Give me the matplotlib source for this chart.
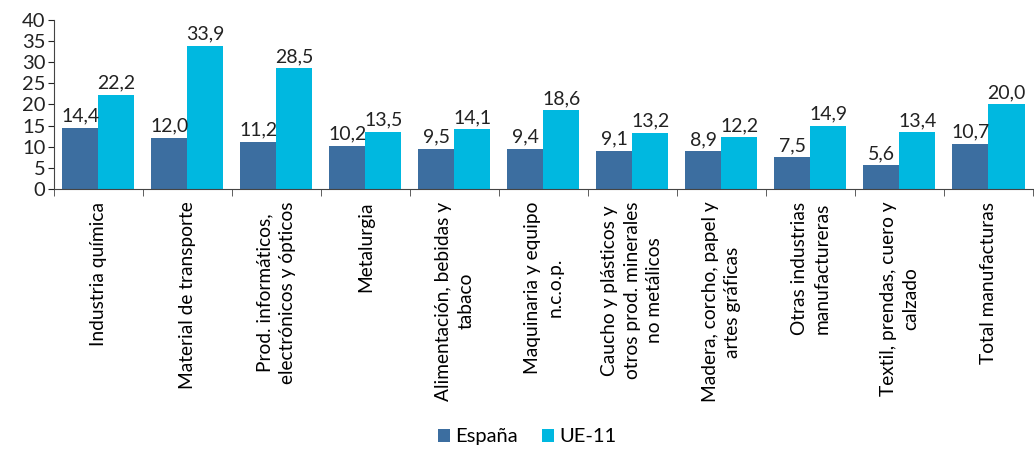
import matplotlib.pyplot as plt
import numpy as np

plt.rcParams['font.family'] = ['Lato', 'DejaVu Sans']

categorias = [
    "Industria química",
    "Material de transporte",
    "Prod. informáticos,\nelectrónicos y ópticos",
    "Metalurgia",
    "Alimentación, bebidas y\ntabaco",
    "Maquinaria y equipo\nn.c.o.p.",
    "Caucho y plásticos y\notros prod. minerales\nno metálicos",
    "Madera, corcho, papel y\nartes gráficas",
    "Otras industrias\nmanufactureras",
    "Textil, prendas, cuero y\ncalzado",
    "Total manufacturas",
]
espana = [14.4, 12.0, 11.2, 10.2, 9.5, 9.4, 9.1, 8.9, 7.5, 5.6, 10.7]
ue11 = [22.2, 33.9, 28.5, 13.5, 14.1, 18.6, 13.2, 12.2, 14.9, 13.4, 20.0]

c_es = '#3C6EA0'
c_ue = '#00B8E0'

fig = plt.figure(figsize=(10.34, 4.5), dpi=100)
ax = fig.add_axes([0.052, 0.58, 0.947, 0.376])

x = np.arange(len(categorias))
w = 0.405
b1 = ax.bar(x - w / 2, espana, w, color=c_es, label='España')
b2 = ax.bar(x + w / 2, ue11, w, color=c_ue, label='UE-11')

for bars, vals in ((b1, espana), (b2, ue11)):
    for r, v in zip(bars, vals):
        ax.text(r.get_x() + r.get_width() / 2, v + 0.8, f"{v:.1f}".replace('.', ','),
                ha='center', va='bottom', fontsize=14, color='#222222')

ax.set_xlim(-0.5, len(categorias) - 0.5)
ax.set_ylim(0, 40)
ax.set_yticks(range(0, 41, 5))
ax.tick_params(axis='y', labelsize=14.5, length=4, pad=2, colors='#222222')
ax.set_xticks(x)
ax.set_xticklabels(categorias, rotation=90, fontsize=13.8, ha='center', va='top',
                   multialignment='center', linespacing=1.4)
ax.tick_params(axis='x', length=0, pad=9)
ax.set_xticks(np.arange(-0.5, len(categorias), 1), minor=True)
ax.tick_params(axis='x', which='minor', length=5, color='#444444')

for s in ('top', 'right'):
    ax.spines[s].set_visible(False)
ax.spines['left'].set_color('#444444')
ax.spines['bottom'].set_color('#444444')

fig.legend(handles=[b1, b2], loc='lower center', bbox_to_anchor=(0.51, -0.03), ncol=2,
           frameon=False, fontsize=14.5, handlelength=0.6, handleheight=0.6,
           handletextpad=0.25, columnspacing=1.2)

fig.savefig('out.png', dpi=100)
